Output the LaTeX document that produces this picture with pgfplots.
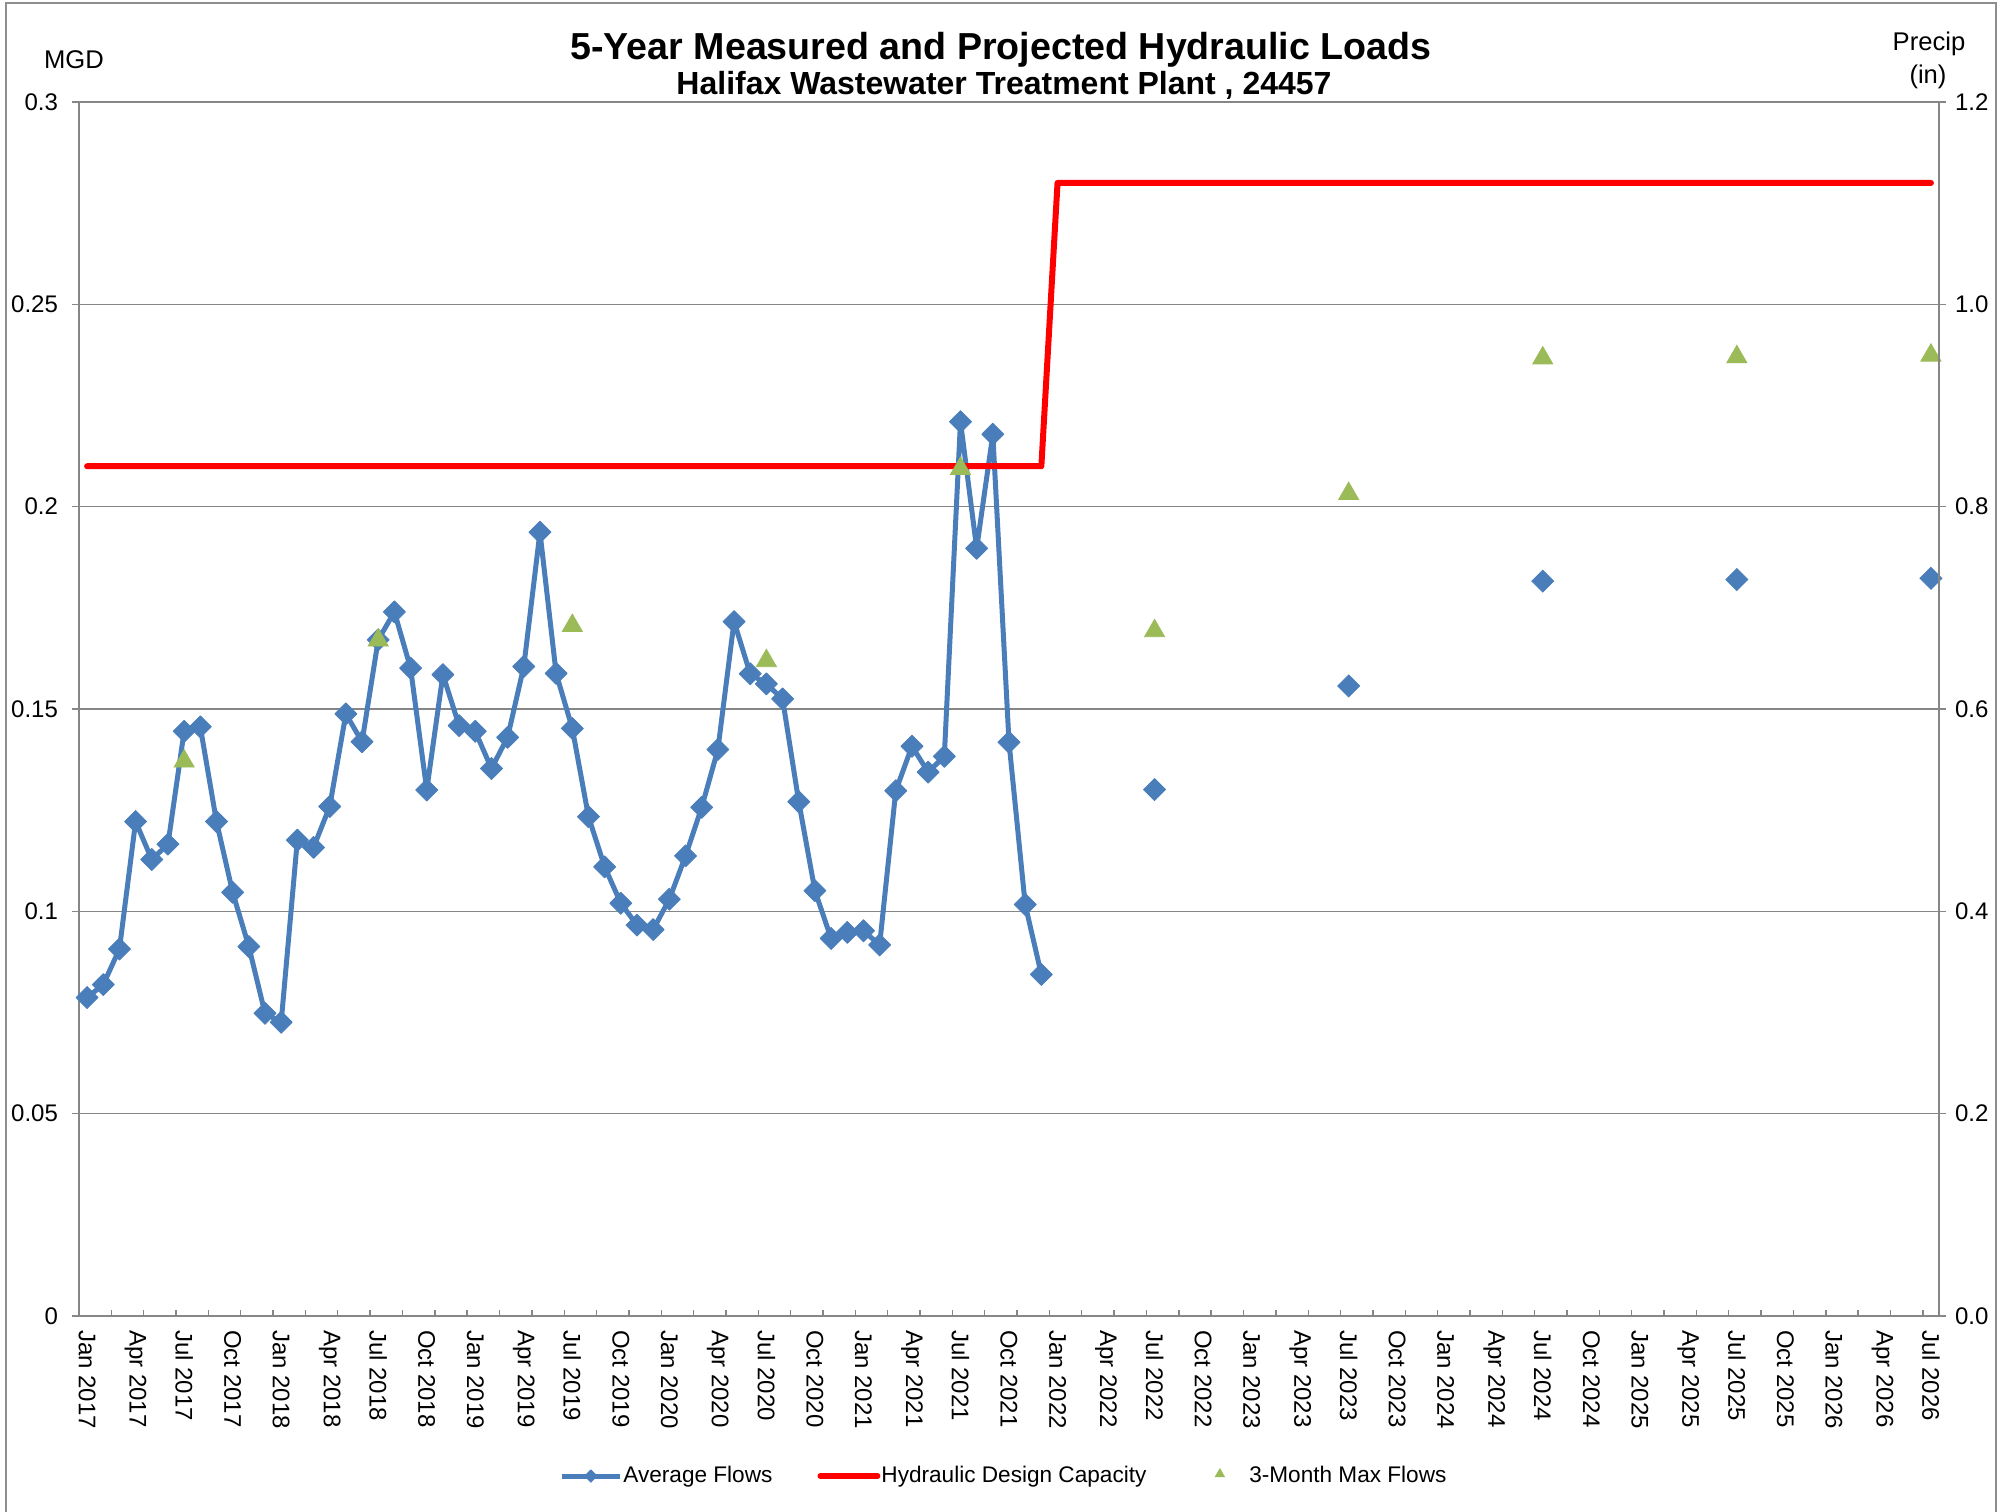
\documentclass[border=0pt]{standalone}
\usepackage{fontspec}
\setmainfont{Liberation Sans}
\usepackage{pgfplots}
\pgfplotsset{compat=1.18}
\definecolor{avgblue}{HTML}{4A7EBB}
\definecolor{maxgreen}{HTML}{9BBB59}
\definecolor{gridgray}{HTML}{868686}
\definecolor{framegray}{HTML}{8E8E8E}
\newcommand{\tickfont}{\fontsize{12}{14.4}\selectfont}
\newcommand{\legfont}{\fontsize{11.3}{13.6}\selectfont}
\newcommand{\unitfont}{\fontsize{12.8}{15.4}\selectfont}
\pgfplotsset{
  avglegend/.style={legend image code/.code={\draw[##1, mark repeat=2, mark phase=2, mark size=2.2pt] plot coordinates {(0pt,0pt) (14.5pt,0pt) (29pt,0pt)};}},
  redlegend/.style={legend image code/.code={\draw[##1] (0pt,0pt) -- (28.5pt,0pt);}},
  trilegend/.style={legend image code/.code={\path (0pt,0pt) (28pt,0pt); \draw[##1, mark size=2.6pt] plot coordinates {(14pt,1pt)};}},
}
\begin{document}
\begin{tikzpicture}
\useasboundingbox (0,0) rectangle (1003.5pt,-755.5pt);
\draw[framegray, line width=0.8pt] (3pt,-1.5pt) rectangle (998pt,-770pt);
\begin{axis}[
  at={(39.5pt,-658pt)}, anchor=south west,
  width=930pt, height=607pt, scale only axis,
  xmin=-0.5, xmax=114.5, ymin=0, ymax=0.3,
  clip=false,
  axis line style={gridgray, line width=0.7pt},
  tick style={gridgray, line width=0.7pt},
  tick align=outside,
  major tick length=3.5pt, minor tick length=3pt,
  xtick pos=bottom, ytick pos=left,
  xtick={0,3,...,114},
  xticklabels={Jan 2017,Apr 2017,Jul 2017,Oct 2017,Jan 2018,Apr 2018,Jul 2018,Oct 2018,Jan 2019,Apr 2019,Jul 2019,Oct 2019,Jan 2020,Apr 2020,Jul 2020,Oct 2020,Jan 2021,Apr 2021,Jul 2021,Oct 2021,Jan 2022,Apr 2022,Jul 2022,Oct 2022,Jan 2023,Apr 2023,Jul 2023,Oct 2023,Jan 2024,Apr 2024,Jul 2024,Oct 2024,Jan 2025,Apr 2025,Jul 2025,Oct 2025,Jan 2026,Apr 2026,Jul 2026},
  major x tick style={draw=none},
  minor xtick={-0.5,1.5,...,113.5},
  minor x tick style={yshift=3pt},
  xticklabel style={rotate=-90, anchor=west, font=\tickfont},
  ytick={0,0.05,0.1,0.15,0.2,0.25,0.3},
  yticklabels={0,0.05,0.1,0.15,0.2,0.25,0.3},
  scaled y ticks=false,
  yticklabel style={font=\tickfont, xshift=-3.5pt},
  ymajorgrids,
  grid style={gridgray, line width=0.7pt},
  legend columns=3,
  legend style={at={(0.497,-0.1318)}, anchor=center, draw=none, fill=none,
    font=\legfont, nodes={inner xsep=0.5pt, inner ysep=2pt},
    /tikz/every even column/.append style={column sep=22pt}},
  legend cell align=left,
]
\addplot[avgblue, line width=2.5pt, line join=round, mark=square*, mark size=3.9pt,
  mark options={rotate=45, solid, line width=0.4pt}, avglegend]
coordinates {
(0,0.0787) (1,0.0819) (2,0.0907) (3,0.1222) (4,0.1128) (5,0.1166)
(6,0.1445) (7,0.1456) (8,0.1222) (9,0.1047) (10,0.0913) (11,0.0748)
(12,0.0726) (13,0.1176) (14,0.1158) (15,0.1259) (16,0.1488) (17,0.1419)
(18,0.1671) (19,0.1740) (20,0.1601) (21,0.1300) (22,0.1585) (23,0.1459)
(24,0.1445) (25,0.1353) (26,0.1430) (27,0.1605) (28,0.1937) (29,0.1588)
(30,0.1452) (31,0.1234) (32,0.1110) (33,0.1020) (34,0.0966) (35,0.0955)
(36,0.1030) (37,0.1137) (38,0.1257) (39,0.1400) (40,0.1716) (41,0.1587)
(42,0.1562) (43,0.1525) (44,0.1271) (45,0.1051) (46,0.0933) (47,0.0948)
(48,0.0952) (49,0.0917) (50,0.1298) (51,0.1408) (52,0.1344) (53,0.1383)
(54,0.2210) (55,0.1897) (56,0.2179) (57,0.1418) (58,0.1017) (59,0.0844)
};
\addlegendentry{Average Flows}
\addplot[red, line width=3pt, line cap=round, line join=round, mark=none, redlegend]
coordinates {(0,0.21) (59,0.21) (60,0.28) (114,0.28)};
\addlegendentry{Hydraulic Design Capacity}
\addplot[only marks, maxgreen, mark=triangle*, mark size=5.8pt, trilegend]
coordinates {(6,0.1371) (18,0.1670) (30,0.1706) (42,0.1619) (54,0.2094)
  (66,0.1693) (78,0.2032) (90,0.2367) (102,0.2370) (114,0.2374)};
\addlegendentry{3-Month Max Flows}
\addplot[only marks, avgblue, mark=square*, mark size=3.9pt, mark options={rotate=45, line width=0.4pt}, forget plot]
coordinates {(66,0.1301) (78,0.1557) (90,0.1816) (102,0.1820) (114,0.1823)};
\end{axis}
\begin{axis}[
  at={(39.5pt,-658pt)}, anchor=south west,
  width=930pt, height=607pt, scale only axis,
  xmin=-0.5, xmax=114.5, ymin=0, ymax=1.2,
  axis x line=none, axis y line*=right,
  axis line style={gridgray, line width=0.7pt},
  tick style={gridgray, line width=0.7pt},
  tick align=outside, major tick length=3.5pt,
  ytick={0,0.2,0.4,0.6,0.8,1.0,1.2},
  yticklabels={0.0,0.2,0.4,0.6,0.8,1.0,1.2},
  yticklabel style={font=\tickfont, xshift=1pt},
]
\end{axis}
\node[anchor=base, font=\bfseries\fontsize{18.8}{22}\selectfont] at (500.5pt,-29.65pt) {5-Year Measured and Projected Hydraulic Loads};
\node[anchor=base, font=\bfseries\fontsize{16}{19}\selectfont] at (502pt,-47.2pt) {Halifax Wastewater Treatment Plant , 24457};
\node[anchor=base, font=\unitfont] at (37pt,-34pt) {MGD};
\node[anchor=base, font=\unitfont] at (964.5pt,-25pt) {Precip};
\node[anchor=base, font=\unitfont] at (964pt,-41.65pt) {(in)};
\end{tikzpicture}
\end{document}
